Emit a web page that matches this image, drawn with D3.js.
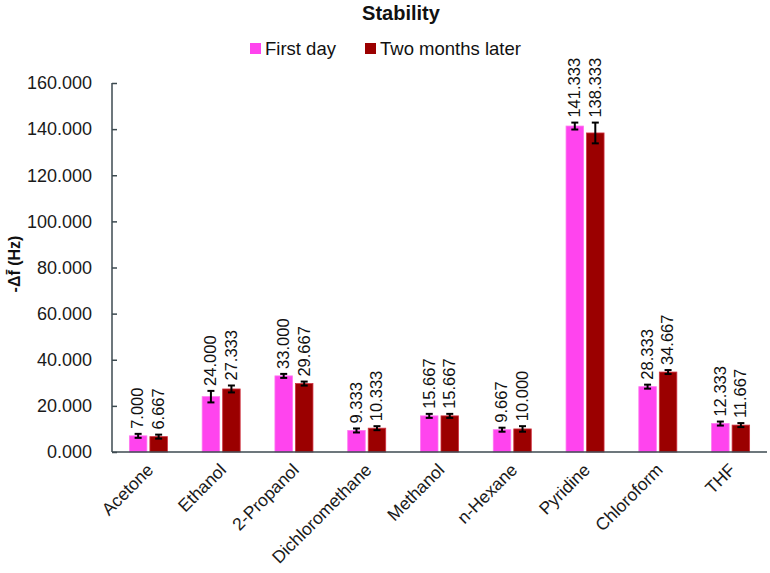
<!DOCTYPE html>
<html><head><meta charset="utf-8">
<script src="https://cdn.jsdelivr.net/npm/d3@7"></script>
<style>body{margin:0;background:#fff}svg{display:block}text{font-family:"Liberation Sans",Arial,sans-serif}</style>
</head><body><svg id="c" width="770" height="573"></svg>
<script>
const categories = ["Acetone","Ethanol","2-Propanol","Dichloromethane","Methanol","n-Hexane","Pyridine","Chloroform","THF"];
const seriesNames = ["First day","Two months later"];
const firstDay = [7.000,24.000,33.000,9.333,15.667,9.667,141.333,28.333,12.333];
const twoMonths = [6.667,27.333,29.667,10.333,15.667,10.000,138.333,34.667,11.667];
const firstDayErr = [0.3,2.5,0.3,0.6,0.5,0.6,1.5,0.6,0.5];
const twoMonthsErr = [0.8,1.5,0.5,0.6,0.6,1.2,4.5,0.6,0.6];
const yTicks = [0,20,40,60,80,100,120,140,160];
const colors = ["#ff44ee","#9b0000"];
const strokes = ["#ff77f0","#d03040"];

const svg = d3.select("#c");
const L=112, R=767, T=83, B=452;
const x = d3.scaleBand().domain(categories).range([L,R]);
const y = d3.scaleLinear().domain([0,160]).range([B,T]);
const barW = 17.5, gap = 3;

// title
svg.append("text").attr("x",401).attr("y",20).attr("text-anchor","middle")
  .attr("font-size",20).attr("font-weight","bold").attr("fill","#111").text("Stability");
// legend
const leg = [{x:250},{x:365}];
seriesNames.forEach((n,i)=>{
  svg.append("rect").attr("x",leg[i].x).attr("y",43).attr("width",11).attr("height",11).attr("fill",colors[i]);
  svg.append("text").attr("x",leg[i].x+15).attr("y",55).attr("font-size",18.5).attr("fill","#111").text(n);
});

// y axis
const yAxis = d3.axisLeft(y).tickValues(yTicks).tickFormat(d3.format(".3f")).tickSize(-5).tickPadding(20);
const gy = svg.append("g").attr("transform",`translate(${L},0)`).call(yAxis);
gy.select(".domain").attr("stroke","#3c4a50").attr("stroke-width",1.5).attr("d",`M0,${T}V${B}`);
gy.selectAll(".tick line").attr("stroke","#3c4a50").attr("stroke-width",1.5);
gy.selectAll(".tick text").attr("font-size",18).attr("fill","#1a1a1a").attr("font-family","Liberation Sans, Arial, sans-serif");
svg.append("text").attr("transform",`translate(20,${264}) rotate(-90)`).attr("text-anchor","middle")
  .attr("font-size",16).attr("font-weight","bold").attr("fill","#111").text("-Δf\u0304 (Hz)");

// bars
const series = [firstDay, twoMonths];
const errs = [firstDayErr, twoMonthsErr];
series.forEach((vals,si)=>{
  const off = si===0 ? -(gap/2+barW) : gap/2;
  const g = svg.append("g");
  categories.forEach((c,i)=>{
    const cx = x(c)+x.bandwidth()/2;
    const bx = cx+off;
    const v = vals[i], e = errs[si][i];
    g.append("rect").attr("x",bx).attr("y",y(v)).attr("width",barW).attr("height",B-y(v))
      .attr("fill",colors[si]).attr("stroke",strokes[si]).attr("stroke-width",0.8);
    const mx = bx+barW/2;
    const eTop = Math.min(y(v+e), y(v)-2), eBot = Math.max(y(v-e), y(v)+2);
    g.append("line").attr("x1",mx).attr("x2",mx).attr("y1",eTop).attr("y2",eBot).attr("stroke","#000").attr("stroke-width",2);
    [eTop,eBot].forEach(yy=>g.append("line").attr("x1",mx-3.5).attr("x2",mx+3.5).attr("y1",yy).attr("y2",yy).attr("stroke","#000").attr("stroke-width",2));
    g.append("text").attr("transform",`translate(${mx+1},${eTop-5}) rotate(-90)`)
      .attr("dominant-baseline","middle").attr("font-size",16.5).attr("fill","#111").text(d3.format(".3f")(v));
  });
});

// x axis
svg.append("line").attr("x1",L).attr("x2",R).attr("y1",B).attr("y2",B).attr("stroke","#3c4a50").attr("stroke-width",1.5);
categories.forEach(c=>{
  const cx = x(c)+x.bandwidth()/2;
  svg.append("text").attr("transform",`translate(${cx+6},${471}) rotate(-45)`).attr("text-anchor","end")
    .attr("font-size",17.5).attr("fill","#1a1a1a").text(c);
});
</script></body></html>
